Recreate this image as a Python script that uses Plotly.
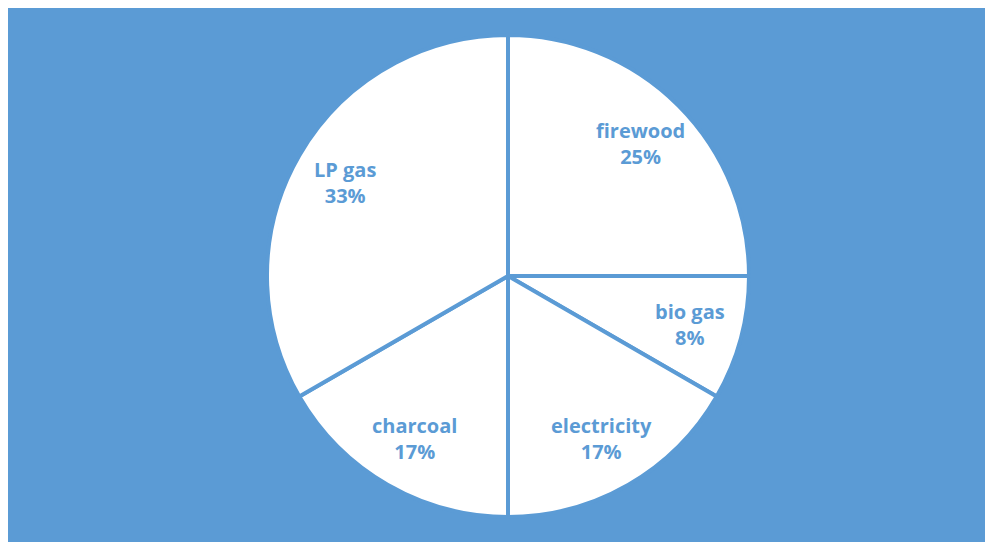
import math
import plotly.graph_objects as go

labels = ["firewood", "bio gas", "electricity", "charcoal", "LP gas"]
values = [3, 1, 2, 2, 4]

BLUE = "#5B9BD5"
W, H = 985, 534           # figure sits inside the page's 8px body margin
CX, CY, R = 500, 268, 241  # pie centre and radius in figure pixels
LABEL_R = 0.78            # label distance as a fraction of radius

fig = go.Figure(go.Pie(
    labels=labels,
    values=values,
    sort=False,
    direction="clockwise",
    rotation=0,
    marker=dict(colors=["white"] * len(labels), line=dict(color=BLUE, width=4)),
    textinfo="none",
    hoverinfo="label+percent",
    domain=dict(x=[(CX - R) / W, (CX + R) / W], y=[(H - CY - R) / H, (H - CY + R) / H]),
    showlegend=False,
))

total = sum(values)
annotations = []
cum = 0.0
for lab, v in zip(labels, values):
    mid = (cum + v / 2) / total * 2 * math.pi
    cum += v
    px = CX + LABEL_R * R * math.sin(mid)
    py = CY - LABEL_R * R * math.cos(mid)
    annotations.append(dict(
        x=px / W, y=(H - py) / H, xref="paper", yref="paper",
        text=f"{lab}<br>{round(100 * v / total)}%",
        showarrow=False, xanchor="center", yanchor="middle",
        font=dict(family="Open Sans", size=20, color=BLUE, weight="bold"),
    ))

fig.update_layout(
    width=W, height=H,
    margin=dict(l=0, r=0, t=0, b=0),
    paper_bgcolor=BLUE,
    annotations=annotations,
)

fig.write_html("out.html")
